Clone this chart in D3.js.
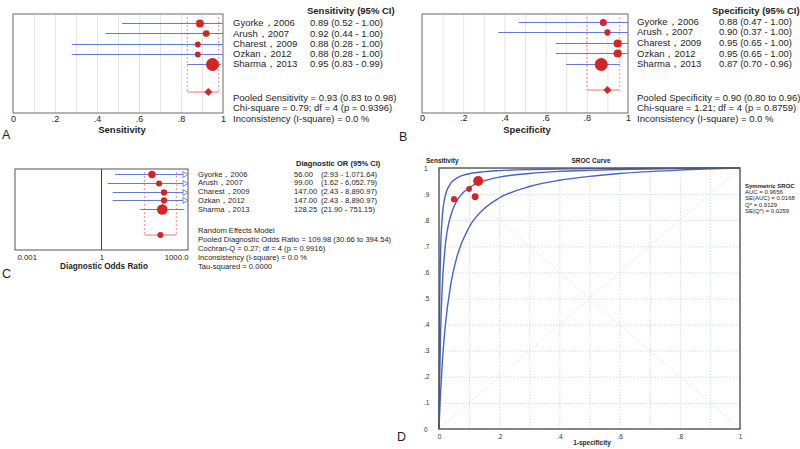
<!DOCTYPE html>
<html lang="en">
<head>
<meta charset="UTF-8">
<title>Forest plots and SROC curve</title>
<style>
  body { margin: 0; background: #fff; }
  svg { font-family: "Liberation Sans", Arial, sans-serif; fill: #1e1e1e; }
  .bold { font-weight: bold; }
</style>
</head>
<body>
<div id="chart"></div>
<script src="https://d3js.org/d3.v7.min.js"></script>
<script>
// ---- data ----
const studies = ["Gyorke，2006", "Arush，2007", "Charest，2009", "Ozkan，2012", "Sharma，2013"];

const sens = [0.89, 0.92, 0.88, 0.88, 0.95];
const sensLo = [0.52, 0.44, 0.28, 0.28, 0.83];
const sensHi = [1.00, 1.00, 1.00, 1.00, 0.99];
const sensWeight = [18, 13, 10, 10, 49];
const pooledSens = 0.93;
const pooledSensCI = [0.83, 0.98];

const spec = [0.88, 0.90, 0.95, 0.95, 0.87];
const specLo = [0.47, 0.37, 0.65, 0.65, 0.70];
const specHi = [1.00, 1.00, 1.00, 1.00, 0.96];
const specWeight = [13, 10, 17, 17, 43];
const pooledSpec = 0.90;
const pooledSpecCI = [0.80, 0.96];

const dor = [56.00, 99.00, 147.00, 147.00, 128.25];
const dorLo = [2.93, 1.62, 2.43, 2.43, 21.90];
const dorHi = [1071.64, 6052.79, 8890.97, 8890.97, 751.15];
const dorWeight = [19, 13, 14, 14, 40];
const pooledDor = 109.98;
const pooledDorCI = [30.66, 394.54];

const propTicks = [0, 0.2, 0.4, 0.6, 0.8, 1];
const propTickLabels = ["0", ".2", ".4", ".6", ".8", "1"];
const dorTicks = [0.001, 1, 1000];
const dorTickLabels = ["0.001", "1", "1000.0"];

const sensStats = ["Pooled Sensitivity = 0.93 (0.83 to 0.98)", "Chi-square = 0.79; df =  4 (p = 0.9396)", "Inconsistency (I-square) = 0.0 %"];
const specStats = ["Pooled Specificity = 0.90 (0.80 to 0.96)", "Chi-square = 1.21; df =  4 (p = 0.8759)", "Inconsistency (I-square) = 0.0 %"];
const dorStats = ["Random Effects Model", "Pooled Diagnostic Odds Ratio = 109.98 (30.66 to 394.54)", "Cochran-Q = 0.27; df =  4 (p = 0.9916)", "Inconsistency (I-square) = 0.0 %", "Tau-squared = 0.0000"];

// SROC: study points (1-specificity, sensitivity) and curves
const srocFpr = [0.12, 0.10, 0.05, 0.05, 0.13];
const srocSens = [0.89, 0.92, 0.88, 0.88, 0.95];
const curveFpr = [0, 0.002, 0.005, 0.01, 0.02, 0.04, 0.06, 0.1, 0.15, 0.2, 0.3, 0.4, 0.5, 0.6, 0.8, 1];
const curveMid = [0, 0.18, 0.356, 0.526, 0.692, 0.821, 0.875, 0.924, 0.951, 0.965, 0.979, 0.987, 0.991, 0.994, 0.998, 1];
const curveUpper = [0, 0.44, 0.665, 0.80, 0.89, 0.943, 0.962, 0.978, 0.986, 0.990, 0.994, 0.996, 0.9975, 0.998, 0.9995, 1];
const curveLower = [0, 0.058, 0.134, 0.236, 0.385, 0.561, 0.662, 0.773, 0.844, 0.885, 0.929, 0.953, 0.968, 0.979, 0.992, 1];
const srocTicks = [0, 0.1, 0.2, 0.3, 0.4, 0.5, 0.6, 0.7, 0.8, 0.9, 1];
const srocYLabels = ["0", ".1", ".2", ".3", ".4", ".5", ".6", ".7", ".8", ".9", "1"];
const srocXTicks = [0, 0.2, 0.4, 0.6, 0.8, 1];
const srocXLabels = ["0", ".2", ".4", ".6", ".8", "1"];
const srocStats = ["AUC = 0.9656", "SE(AUC) = 0.0168", "Q* = 0.9129", "SE(Q*) = 0.0259"];

// ---- drawing ----
const RED = "#d42424", PINK = "#f09090", BLUE = "#6578dc", BOX = "#6a6a6a";

const svg = d3.select("#chart").append("svg")
  .attr("width", 800)
  .attr("height", 449);

const fmt2 = d3.format(".2f");
const fmtC = d3.format(",.2f");

function forest(c) {
  const g = svg.append("g");
  const x = c.x;
  const [x0, x1] = x.range();
  const yb = d3.scalePoint().domain(studies).range(c.rows);
  const y = d => Math.round(yb(d)) + 0.5;
  const r = d3.scaleSqrt().domain([0, d3.max(c.weight)]).range([0, c.rMax]);

  if (c.grid) {
    g.append("g")
      .attr("transform", `translate(0,${c.bottom})`)
      .call(d3.axisBottom(x).tickValues(c.grid).tickSize(-(c.bottom - c.top)).tickFormat(""))
      .call(a => a.select(".domain").remove())
      .selectAll("line").attr("stroke", "#e4e6ee");
  }

  g.append("rect")
    .attr("x", x0).attr("y", c.top)
    .attr("width", x1 - x0).attr("height", c.bottom - c.top)
    .attr("fill", "none").attr("stroke", c.boxColor || BOX).attr("stroke-width", 1);

  if (c.refLine != null) {
    g.append("line")
      .attr("x1", x(c.refLine)).attr("x2", x(c.refLine))
      .attr("y1", c.top).attr("y2", c.bottom)
      .attr("stroke", "#444").attr("stroke-width", 1);
  }

  // pooled confidence band
  g.selectAll(".ci-band").data(c.pooledCI).join("line")
    .attr("x1", d => x(d)).attr("x2", d => x(d))
    .attr("y1", c.top + 3).attr("y2", c.pooledY)
    .attr("stroke", PINK).attr("stroke-width", 1).attr("stroke-dasharray", "2,2");
  g.append("line")
    .attr("x1", x(c.pooledCI[0])).attr("x2", x(c.pooledCI[1]))
    .attr("y1", c.pooledY).attr("y2", c.pooledY)
    .attr("stroke", "#f07070").attr("stroke-width", 1);
  if (c.diamond) {
    const px = x(c.pooled), py = c.pooledY;
    g.append("path")
      .attr("d", `M${px - 4},${py}L${px},${py - 4}L${px + 4},${py}L${px},${py + 4}Z`)
      .attr("fill", RED);
  } else {
    g.append("circle").attr("cx", x(c.pooled)).attr("cy", c.pooledY).attr("r", 3).attr("fill", RED);
  }

  // study CIs
  const [d0, d1] = x.domain();
  g.selectAll(".ci").data(studies).join("line")
    .attr("x1", (d, i) => x(Math.max(c.lo[i], d0)))
    .attr("x2", (d, i) => x(Math.min(c.hi[i], d1)))
    .attr("y1", d => y(d)).attr("y2", d => y(d))
    .attr("stroke", BLUE).attr("stroke-width", 1);
  g.selectAll(".arrow").data(studies.filter((d, i) => c.hi[i] > d1)).join("path")
    .attr("d", d => `M${x1 - 5},${y(d) - 3}L${x1},${y(d)}L${x1 - 5},${y(d) + 3}Z`)
    .attr("fill", "#fff").attr("stroke", BLUE).attr("stroke-width", 0.9);

  g.selectAll(".pt").data(studies).join("circle")
    .attr("cx", (d, i) => x(c.est[i]))
    .attr("cy", d => y(d))
    .attr("r", (d, i) => r(c.weight[i]))
    .attr("fill", RED);

  // tick labels
  const ax = g.append("g")
    .attr("transform", `translate(0,${c.tickY})`)
    .call(d3.axisBottom(x).tickValues(c.ticks).tickSize(0).tickFormat((d, i) => c.tickLabels[i]));
  ax.select(".domain").remove();
  ax.selectAll("text").attr("y", 0).attr("dy", 0)
    .attr("font-size", c.tickSize).attr("fill", "#222").attr("font-family", "Liberation Sans, Arial, sans-serif");
  if (c.edgeLabels) {
    ax.selectAll("text").attr("text-anchor", (d, i, n) => i === 0 ? "start" : i === n.length - 1 ? "end" : "middle")
      .attr("dx", (d, i) => i === 0 ? 2 : 0);
  }

  g.append("text").attr("class", "bold")
    .attr("x", c.titleX).attr("y", c.titleY)
    .attr("text-anchor", "middle").attr("font-size", c.titleSize).text(c.title);

  g.append("text").attr("x", c.letterX).attr("y", c.letterY)
    .attr("font-size", 12.5).text(c.letter);

  // right-hand table
  g.append("text").attr("class", "bold")
    .attr("x", c.headX).attr("y", c.headY).attr("font-size", c.fs).text(c.head);
  g.selectAll(".name").data(studies).join("text")
    .attr("x", c.nameX).attr("y", d => yb(d) + c.fs * 0.35)
    .attr("font-size", c.fs).text(d => d);
  c.valueCols.forEach(col => {
    g.selectAll(null).data(studies).join("text")
      .attr("x", col.x).attr("y", d => yb(d) + c.fs * 0.35)
      .attr("font-size", c.fs).text((d, i) => col.text(i));
  });
  g.selectAll(".stat").data(c.stats).join("text")
    .attr("x", c.nameX).attr("y", (d, i) => c.statY + i * c.statStep)
    .attr("font-size", c.fs).text(d => d);
}

forest({
  x: d3.scaleLinear().domain([0, 1]).range([13, 223]),
  rows: [23, 64], top: 14, bottom: 113, pooledY: 92, rMax: 6.5,
  est: sens, lo: sensLo, hi: sensHi, weight: sensWeight,
  pooled: pooledSens, pooledCI: pooledSensCI, diamond: true,
  grid: d3.range(0.1, 1, 0.1),
  ticks: propTicks, tickLabels: propTickLabels, tickSize: 9, tickY: 122,
  title: "Sensitivity", titleX: 122, titleY: 133, titleSize: 9.5,
  letter: "A", letterX: 2, letterY: 139,
  head: "Sensitivity (95% CI)", headX: 307, headY: 14,
  nameX: 233, fs: 9.5,
  valueCols: [{x: 310, text: i => `${fmt2(sens[i])} (${fmt2(sensLo[i])} - ${fmt2(sensHi[i])})`}],
  stats: sensStats, statY: 100.5, statStep: 10.5
});

forest({
  x: d3.scaleLinear().domain([0, 1]).range([422, 628]),
  rows: [21.5, 64], top: 14, bottom: 113, pooledY: 90, rMax: 6.5,
  est: spec, lo: specLo, hi: specHi, weight: specWeight,
  pooled: pooledSpec, pooledCI: pooledSpecCI, diamond: true,
  grid: d3.range(0.1, 1, 0.1),
  ticks: propTicks, tickLabels: propTickLabels, tickSize: 9, tickY: 121,
  title: "Specificity", titleX: 527, titleY: 133, titleSize: 9.5,
  letter: "B", letterX: 399, letterY: 141,
  head: "Specificity (95% CI)", headX: 712, headY: 14,
  nameX: 637, fs: 9.5,
  valueCols: [{x: 719, text: i => `${fmt2(spec[i])} (${fmt2(specLo[i])} - ${fmt2(specHi[i])})`}],
  stats: specStats, statY: 100.5, statStep: 10.5
});

forest({
  x: d3.scaleLog().domain([0.001, 1000]).range([15, 188]),
  rows: [174, 209], top: 169, bottom: 250, pooledY: 235, rMax: 5.3,
  est: dor, lo: dorLo, hi: dorHi, weight: dorWeight,
  pooled: pooledDor, pooledCI: pooledDorCI, diamond: false, refLine: 1,
  boxColor: "#555",
  ticks: dorTicks, tickLabels: dorTickLabels, tickSize: 7.8, tickY: 260, edgeLabels: true,
  title: "Diagnostic Odds Ratio", titleX: 104, titleY: 269, titleSize: 8.2,
  letter: "C", letterX: 2, letterY: 278,
  head: "Diagnostic OR (95% CI)", headX: 296, headY: 166,
  nameX: 198, fs: 7.6,
  valueCols: [
    {x: 294, text: i => fmt2(dor[i])},
    {x: 321, text: i => `(${fmtC(dorLo[i])} - ${fmtC(dorHi[i])})`}
  ],
  stats: dorStats, statY: 233, statStep: 8.9
});

// ---- panel D: SROC ----
(function () {
  const g = svg.append("g");
  const x = d3.scaleLinear().domain([0, 1]).range([439, 740]);
  const y = d3.scaleLinear().domain([0, 1]).range([429, 168]);

  g.append("g").attr("transform", "translate(0,429)")
    .call(d3.axisBottom(x).tickValues(srocTicks).tickSize(-261).tickFormat(""))
    .call(a => a.select(".domain").remove())
    .selectAll("line").attr("stroke", "#d6dae6").attr("stroke-dasharray", "1.5,1.5");
  g.append("g").attr("transform", "translate(439,0)")
    .call(d3.axisLeft(y).tickValues(srocTicks).tickSize(-301).tickFormat(""))
    .call(a => a.select(".domain").remove())
    .selectAll("line").attr("stroke", "#d6dae6").attr("stroke-dasharray", "1.5,1.5");

  // diagonals
  g.append("line").attr("x1", x(0)).attr("y1", y(0)).attr("x2", x(1)).attr("y2", y(1))
    .attr("stroke", "#e2e2ea").attr("stroke-dasharray", "2,2");
  g.append("line").attr("x1", x(0)).attr("y1", y(1)).attr("x2", x(1)).attr("y2", y(0))
    .attr("stroke", "#e2e2ea").attr("stroke-dasharray", "2,2");

  const line = d3.line().x(d => x(d[0])).y(d => y(d[1])).curve(d3.curveMonotoneX);
  [curveUpper, curveMid, curveLower].forEach(cv => {
    g.append("path").datum(curveFpr.map((f, i) => [f, cv[i]]))
      .attr("d", line).attr("fill", "none")
      .attr("stroke", "#4a62c8").attr("stroke-width", 1.4);
  });

  g.append("rect").attr("x", 439).attr("y", 168).attr("width", 301).attr("height", 261)
    .attr("fill", "none").attr("stroke", "#555").attr("stroke-width", 1.4);

  const r = d3.scaleSqrt().domain([0, d3.max(dorWeight)]).range([0, 5]);
  g.selectAll(".sp").data(studies).join("circle")
    .attr("cx", (d, i) => x(srocFpr[i])).attr("cy", (d, i) => y(srocSens[i]))
    .attr("r", (d, i) => r(dorWeight[i])).attr("fill", RED);

  const ay = g.append("g").attr("transform", "translate(431,0)")
    .call(d3.axisLeft(y).tickValues(srocTicks).tickSize(0).tickFormat((d, i) => srocYLabels[i]));
  ay.select(".domain").remove();
  ay.selectAll("text").attr("font-size", 6.5).attr("fill", "#333").attr("text-anchor", "start").attr("x", -7)
    .attr("font-family", "Liberation Sans, Arial, sans-serif");

  const ax = g.append("g").attr("transform", "translate(0,431)")
    .call(d3.axisBottom(x).tickValues(srocXTicks).tickSize(0).tickFormat((d, i) => srocXLabels[i]));
  ax.select(".domain").remove();
  ax.selectAll("text").attr("font-size", 6.5).attr("fill", "#333").attr("font-family", "Liberation Sans, Arial, sans-serif");

  g.append("text").attr("class", "bold").attr("x", 592).attr("y", 445)
    .attr("text-anchor", "middle").attr("font-size", 6.5).text("1-specificity");
  g.append("text").attr("class", "bold").attr("x", 426).attr("y", 163)
    .attr("font-size", 6.5).text("Sensitivity");
  g.append("text").attr("class", "bold").attr("x", 591).attr("y", 163)
    .attr("text-anchor", "middle").attr("font-size", 6.5).text("SROC Curve");
  g.append("text").attr("x", 397).attr("y", 441).attr("font-size", 12.5).text("D");

  g.append("text").attr("class", "bold").attr("x", 745).attr("y", 187.5)
    .attr("font-size", 6).text("Symmetric SROC");
  g.selectAll(".ss").data(srocStats).join("text")
    .attr("x", 745).attr("y", (d, i) => 194 + i * 6.4)
    .attr("font-size", 6).text(d => d);
})();
</script>
</body>
</html>
